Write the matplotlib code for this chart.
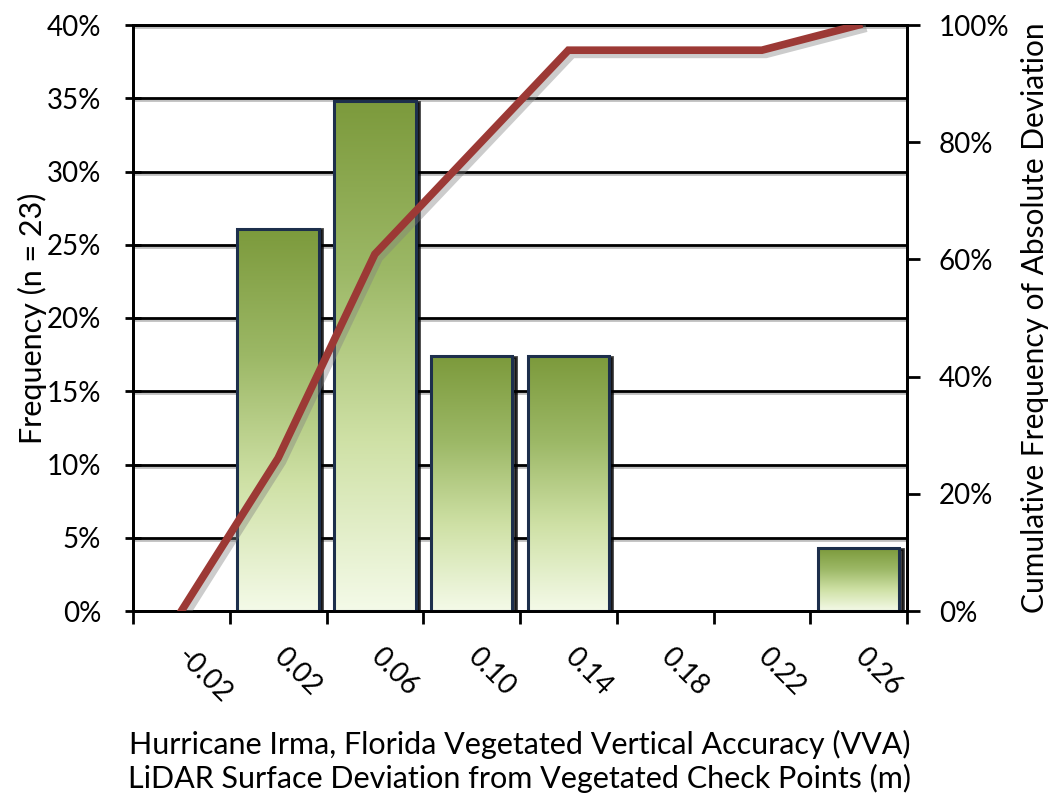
import numpy as np
import matplotlib
matplotlib.use('Agg')
from matplotlib import pyplot as plt
from matplotlib.colors import LinearSegmentedColormap
from matplotlib.patches import Rectangle
from matplotlib.ticker import FuncFormatter, FixedLocator
from matplotlib.transforms import ScaledTranslation
import matplotlib.patheffects as pe

# data
bins = ['-0.02', '0.02', '0.06', '0.10', '0.14', '0.18', '0.22', '0.26']
freq = [0.0, 26.1, 34.8, 17.4, 17.4, 0.0, 0.0, 4.3]          # % of n = 23
cum_freq = [0.0, 26.1, 60.9, 78.3, 95.7, 95.7, 95.7, 100.0]  # %

LINE_RED = '#9c3935'
EDGE = '#1d2f4c'
green_cmap = LinearSegmentedColormap.from_list('g', ['#f4fae8', '#cfe1a6', '#9cb866', '#7c9a3c'])

plt.rcParams['font.family'] = ['Lato', 'DejaVu Sans']

fig = plt.figure(figsize=(10.53, 7.98), dpi=100)
ax = fig.add_axes([133/1053, 1 - 611/798, (907 - 133)/1053, (611 - 25)/798])

x = np.arange(len(bins))
width = 0.84
grad = np.linspace(0, 1, 256).reshape(-1, 1)
shadow_tr = ax.transData + ScaledTranslation(2.5/72, -0.5/72, fig.dpi_scale_trans)
for xi, h in zip(x, freq):
    if h <= 0:
        continue
    ax.add_patch(Rectangle((xi - width/2, 0), width, h, fc='black', ec='black', lw=2,
                           alpha=0.75, transform=shadow_tr, zorder=2))
    rect = Rectangle((xi - width/2, 0), width, h, fc='none', ec=EDGE, lw=2.2, zorder=4)
    ax.add_patch(rect)
    img = ax.imshow(grad, cmap=green_cmap, origin='lower', aspect='auto',
                    extent=[xi - width/2, xi + width/2, 0, h], zorder=3)
    img.set_clip_path(rect)

ax.set_xlim(-0.5, len(bins) - 0.5)
ax.set_ylim(0, 40)
ax.set_yticks(np.arange(0, 41, 5))
ax.yaxis.set_major_formatter(FuncFormatter(lambda v, p: '%d%%' % v))
ax.yaxis.grid(True, color='black', lw=2)
for gl in ax.yaxis.get_gridlines():
    gl.set_path_effects([pe.SimpleLineShadow(offset=(0, -1.5), shadow_color='gray', alpha=0.5), pe.Normal()])
ax.set_axisbelow(True)

# bin edges get ticks, labels sit at bin centres
ax.xaxis.set_major_locator(FixedLocator(np.arange(-0.5, len(bins), 1.0)))
ax.xaxis.set_minor_locator(FixedLocator(x))
ax.set_xticklabels([], minor=False)
ax.set_xticklabels(bins, minor=True, rotation=-45, rotation_mode='anchor', ha='left', va='center')
ax.tick_params(axis='x', which='major', direction='out', length=9, width=2)
ax.tick_params(axis='x', which='minor', length=0, pad=30, labelsize=20)
ax.tick_params(axis='y', direction='inout', length=12, width=2, labelsize=20, pad=17)
for s in ax.spines.values():
    s.set_linewidth(2)

ax.set_ylabel('Frequency (n = 23)', fontsize=22, labelpad=0)
ax.set_xlabel('Hurricane Irma, Florida Vegetated Vertical Accuracy (VVA)\n'
              'LiDAR Surface Deviation from Vegetated Check Points (m)',
              fontsize=22, labelpad=16, linespacing=1.2)

ax2 = ax.twinx()
ax2.plot(x, cum_freq, color=LINE_RED, lw=5.5, solid_joinstyle='miter', zorder=5,
         path_effects=[pe.SimpleLineShadow(offset=(3, -3), shadow_color='gray', alpha=0.4), pe.Normal()])
ax2.set_ylim(0, 100)
ax2.set_yticks(np.arange(0, 101, 20))
ax2.yaxis.set_major_formatter(FuncFormatter(lambda v, p: '%d%%' % v))
ax2.tick_params(axis='y', direction='out', length=9, width=2, labelsize=20, pad=14)
for s in ax2.spines.values():
    s.set_linewidth(2)
ax2.set_ylabel('Cumulative Frequency of Absolute Deviation', fontsize=21.5, labelpad=8)

fig.savefig('out.png')
